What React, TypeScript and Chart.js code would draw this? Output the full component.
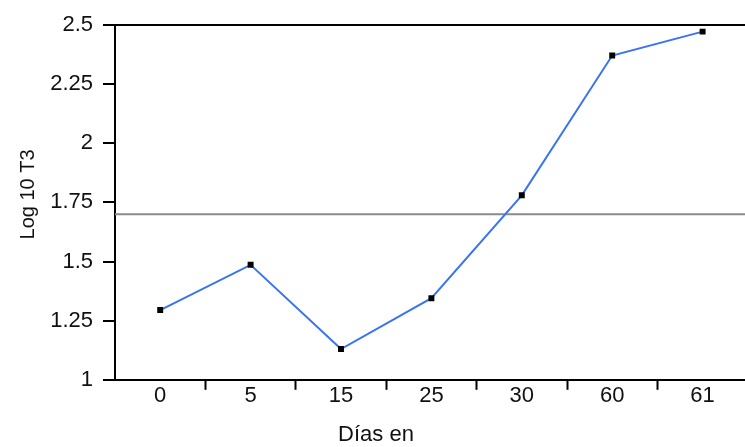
import React, { useEffect, useRef } from 'react';
import { Chart, registerables } from 'chart.js';

Chart.register(...registerables);

const categories = ['0', '5', '15', '25', '30', '60', '61'];
const log10T3 = [1.295, 1.486, 1.13, 1.345, 1.78, 2.371, 2.472];
const yMin = 1;
const yMax = 2.5;
const yStep = 0.25;
const thresholdValue = 1.7;
const yAxisTitle = 'Log 10 T3';
const xAxisTitle = 'Días en';

const FONT = '"Liberation Sans", Arial, Helvetica, sans-serif';
const TEXT = '#111111';

const thresholdPlugin = {
  id: 'thresholdLine',
  beforeDatasetsDraw(chart: any) {
    const { ctx, chartArea, scales } = chart;
    const y = scales.y.getPixelForValue(thresholdValue);
    ctx.save();
    ctx.strokeStyle = '#8a8a8a';
    ctx.lineWidth = 2;
    ctx.beginPath();
    ctx.moveTo(chartArea.left, y);
    ctx.lineTo(chartArea.right, y);
    ctx.stroke();
    ctx.restore();
  },
};

const yTitlePlugin = {
  id: 'yTitle',
  afterDraw(chart: any) {
    const { ctx, chartArea } = chart;
    ctx.save();
    ctx.translate(28, (chartArea.top + chartArea.bottom) / 2 - 8);
    ctx.rotate(-Math.PI / 2);
    ctx.font = `20px ${FONT}`;
    ctx.fillStyle = TEXT;
    ctx.textAlign = 'center';
    ctx.textBaseline = 'middle';
    ctx.fillText(yAxisTitle, 0, 0);
    ctx.restore();
  },
};

export default function App() {
  const ref = useRef<HTMLCanvasElement | null>(null);

  useEffect(() => {
    if (!ref.current) return;
    const chart = new Chart(ref.current, {
      type: 'line',
      data: {
        labels: categories,
        datasets: [
          {
            data: log10T3,
            borderColor: '#3a74f2',
            borderWidth: 2,
            pointStyle: 'rect',
            pointRadius: 4.2,
            pointBackgroundColor: '#000',
            pointBorderWidth: 0,
            tension: 0,
            fill: false,
          },
        ],
      },
      options: {
        responsive: false,
        animation: false,
        layout: { padding: { top: 25, right: 1, left: 1, bottom: 0 } },
        plugins: {
          legend: { display: false },
          tooltip: { enabled: false },
          title: {
            display: true,
            text: xAxisTitle,
            position: 'bottom',
            color: TEXT,
            font: { family: FONT, size: 22, weight: 'normal', lineHeight: 1.1 },
            padding: { top: 0, bottom: 0 },
          },
        },
        scales: {
          x: {
            type: 'category',
            offset: true,
            afterFit(scale: any) {
              scale.height = 43;
            },
            grid: {
              offset: true,
              drawOnChartArea: false,
              drawTicks: true,
              tickLength: 10,
              tickColor: (ctx: any) => (ctx.index === 0 ? 'rgba(0,0,0,0)' : '#000'),
              tickWidth: 2,
            },
            border: { display: true, color: '#000', width: 2 },
            ticks: {
              color: TEXT,
              padding: -7,
              maxRotation: 0,
              font: { family: FONT, size: 22 },
            },
          },
          y: {
            min: yMin,
            max: yMax,
            afterFit(scale: any) {
              scale.width = 114;
            },
            grid: {
              color: (ctx: any) => (ctx.tick && ctx.tick.value === yMax ? '#000' : 'rgba(0,0,0,0)'),
              lineWidth: 2,
              tickColor: '#000',
              tickWidth: 2,
              tickLength: 12,
            },
            border: { display: true, color: '#000', width: 2 },
            ticks: {
              stepSize: yStep,
              color: TEXT,
              padding: 10,
              font: { family: FONT, size: 22 },
              callback: (v: any) => String(Number(v)),
            },
            title: { display: false },
          },
        },
      },
      plugins: [thresholdPlugin, yTitlePlugin],
    });
    return () => chart.destroy();
  }, []);

  return (
    <div style={{ position: 'fixed', left: 0, top: 0, width: 745, height: 447, overflow: 'hidden' }}>
      <canvas ref={ref} width={752} height={447} style={{ display: 'block' }} />
    </div>
  );
}
